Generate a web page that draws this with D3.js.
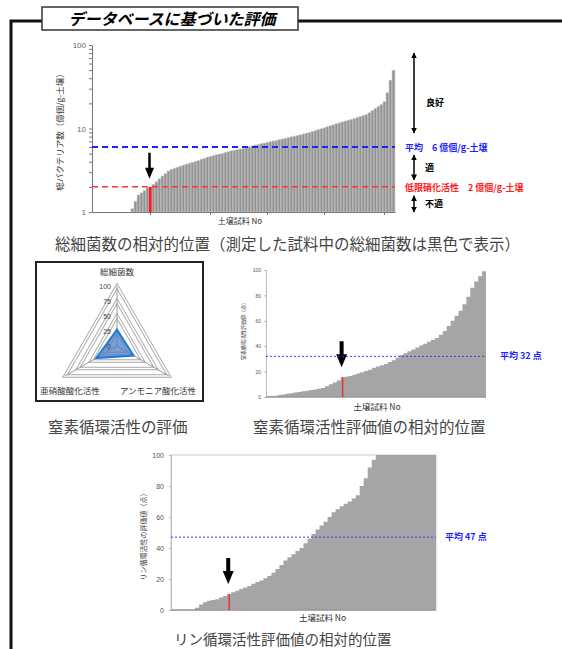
<!DOCTYPE html>
<html>
<head>
    <title></title>
    <meta charset="utf-8">
    <style>
        body { margin: 0; background: #fff; }
        svg { display: block; font-family: "Noto Sans CJK JP", "Noto Sans", sans-serif; }
    </style>
</head>
<body>
<script src="https://cdn.jsdelivr.net/npm/d3@7"></script>
<script>
    // total bacteria per sample (100 million cells / g soil), sorted
    var bacteria = [1, 1, 1, 1, 1, 1, 1, 1, 1, 1, 1, 1, 1,
        1.1, 1.35, 1.6, 1.7, 1.8, 1.95, 2.0, 2.15, 2.3, 2.5, 2.7, 2.9,
        3.1, 3.25, 3.35, 3.45, 3.55, 3.65, 3.75, 3.85, 3.95, 4.05, 4.15,
        4.3, 4.4, 4.55, 4.65, 4.75, 4.85, 4.95, 5.05, 5.2, 5.3, 5.4, 5.5,
        5.6, 5.7, 5.8, 5.9, 6.05, 6.2, 6.35, 6.45, 6.6, 6.7, 6.85, 6.95,
        7.1, 7.2, 7.35, 7.5, 7.65, 7.8, 7.95, 8.1, 8.25, 8.4, 8.6, 8.8,
        9.0, 9.2, 9.45, 9.7, 9.95, 10.2, 10.5, 10.8, 11.1, 11.4, 11.7,
        12.0, 12.3, 12.6, 12.9, 13.2, 13.6, 14.0, 14.4, 14.8, 15.5, 16.5,
        17.5, 18.5, 19.5, 21, 27, 38, 50];
    var bacteriaRed = 19;
    var bacteriaMean = 6;
    var bacteriaMin = 2;
    var bacteriaLabels = [1, 10, 100];
    var bacteriaTicks = [1, 2, 3, 4, 5, 6, 7, 8, 9, 10, 20, 30, 40, 50, 60, 70, 80, 90, 100];
    var sampleTicks = [19, 39, 58, 77, 97];

    // radar: nitrogen cycle
    var radarAxes = ['総細菌数', 'アンモニア酸化活性', '亜硝酸酸化活性'];
    var radarValues = [27, 32, 40];
    var radarLevels = [0, 25, 50, 75, 100];

    // nitrogen cycle score per sample, sorted
    var nitrogen = [0.5, 0.8, 1, 1.5, 2, 2.5, 3, 3.5, 4, 4.5, 5, 5.5, 6, 6.5,
        7, 8.5, 10, 11.5, 13, 15.5, 16, 16.5, 17.5, 18.5, 19.5, 20.5, 21.5,
        23, 24, 25, 26, 27.5, 29, 31, 33, 34.5, 36, 37.5, 39, 40.5, 42, 43.5,
        45, 46.5, 49, 52, 56, 60, 64, 68, 73, 79, 86, 91, 95, 99];
    var nitrogenRed = 19;
    var nitrogenMean = 32;

    // phosphorus cycle score per sample, sorted
    var phosphorus = [0, 0, 0, 0, 0, 0, 1.5, 3.5, 5, 6, 6.5, 7, 8, 9, 10.3,
        11.5, 12.5, 13.5, 14.5, 15.5, 17, 18, 19, 20.5, 22, 24, 26.5, 29, 32,
        34, 36, 38, 40, 43, 46, 49, 52, 54.5, 57, 60, 63, 65, 67, 68.5, 70,
        72, 74, 80, 85, 92, 97, 100, 100, 100, 100, 100, 100, 100, 100, 100,
        100, 100, 100, 100, 100, 100];
    var phosphorusRed = 14;
    var phosphorusMean = 47;
    var scoreTicks = [0, 20, 40, 60, 80, 100];

    var svg = d3.select('body').append('svg')
        .attr('width', 562)
        .attr('height', 649);

    var defs = svg.append('defs');
    defs.append('marker')
        .attr('id', 'head')
        .attr('viewBox', '0 0 10 10')
        .attr('refX', 9).attr('refY', 5)
        .attr('markerWidth', 4).attr('markerHeight', 4)
        .attr('orient', 'auto-start-reverse')
        .append('path').attr('d', 'M0,0L10,5L0,10z').attr('fill', '#000');

    // outer frame and title
    svg.append('path')
        .attr('d', 'M11,649V21H562')
        .attr('fill', 'none').attr('stroke', '#111').attr('stroke-width', 3);
    svg.append('rect')
        .attr('x', 42).attr('y', 7).attr('width', 256).attr('height', 23)
        .attr('fill', '#fff').attr('stroke', '#333').attr('stroke-width', 1.5);
    svg.append('text')
        .attr('x', 172).attr('y', 25)
        .attr('text-anchor', 'middle')
        .style('font-size', '16px').style('font-weight', 'bold').style('font-style', 'italic')
        .text('データベースに基づいた評価');

    function bigArrow(g, x, yTop, yTip, shaft, head, headH) {
        g.append('path')
            .attr('d', 'M' + (x - shaft / 2) + ',' + yTop + 'H' + (x + shaft / 2) +
                'V' + (yTip - headH) + 'H' + (x + head / 2) + 'L' + x + ',' + yTip +
                'L' + (x - head / 2) + ',' + (yTip - headH) + 'H' + (x - shaft / 2) + 'Z')
            .attr('fill', '#000');
    }

    function dblArrow(g, x, ya, yb) {
        g.append('line')
            .attr('x1', x).attr('x2', x).attr('y1', ya).attr('y2', yb)
            .attr('stroke', '#000').attr('stroke-width', 1.5)
            .attr('marker-start', 'url(#head)').attr('marker-end', 'url(#head)');
    }

    // ---- chart 1: total bacteria (log) ----
    var g1 = svg.append('g');
    var x1 = d3.scaleBand().domain(d3.range(bacteria.length)).range([92, 395]);
    var y1 = d3.scaleLog().domain([1, 100]).range([212, 45]);

    g1.selectAll('rect.bar').data(bacteria).enter().append('rect')
        .attr('class', 'bar')
        .attr('x', function (d, i) { return x1(i); })
        .attr('y', function (d) { return y1(d); })
        .attr('width', x1.bandwidth())
        .attr('height', function (d) { return y1(1) - y1(d); })
        .style('fill', function (d, i) { return i === bacteriaRed ? '#ff1a1a' : '#939393'; })
        .style('stroke', function (d, i) { return i === bacteriaRed ? 'none' : '#d4d4d4'; })
        .style('stroke-width', 0.6);

    var ax1 = g1.append('g').attr('transform', 'translate(92,0)')
        .call(d3.axisLeft(y1).tickValues(bacteriaTicks).tickSize(3).tickSizeOuter(0)
            .tickFormat(function (d) { return bacteriaLabels.indexOf(d) >= 0 ? d : ''; }));
    var bx1 = g1.append('g').attr('transform', 'translate(0,212)')
        .call(d3.axisBottom(x1).tickValues(sampleTicks).tickSize(3).tickSizeOuter(0).tickFormat(''));
    [ax1, bx1].forEach(function (a) {
        a.select('.domain').attr('stroke', '#777');
        a.selectAll('.tick line').attr('stroke', '#777');
        a.selectAll('.tick text').attr('fill', '#666').style('font-size', '8px')
            .style('font-family', '"Liberation Sans", sans-serif');
    });

    g1.append('line')
        .attr('x1', 92).attr('x2', 395).attr('y1', y1(bacteriaMean)).attr('y2', y1(bacteriaMean))
        .attr('stroke', '#1f1fff').attr('stroke-width', 2).attr('stroke-dasharray', '6,4');
    g1.append('line')
        .attr('x1', 92).attr('x2', 395).attr('y1', y1(bacteriaMin)).attr('y2', y1(bacteriaMin))
        .attr('stroke', '#ff3535').attr('stroke-width', 1.5).attr('stroke-dasharray', '6,4');

    var rx = x1(bacteriaRed) + x1.bandwidth() / 2;
    bigArrow(g1, rx - 1, y1(bacteria[bacteriaRed]) - 34, y1(bacteria[bacteriaRed]) - 8, 2.5, 9, 11);

    g1.append('text')
        .attr('transform', 'translate(63,130) rotate(-90)')
        .attr('text-anchor', 'middle').attr('fill', '#333')
        .style('font-size', '8.5px')
        .text('総バクテリア数（億個/g-土壌）');
    g1.append('text')
        .attr('x', 240).attr('y', 224).attr('text-anchor', 'middle').attr('fill', '#333')
        .style('font-size', '8px').text('土壌試料 No');

    dblArrow(g1, 414, y1(80), y1(bacteriaMean) - 14);
    dblArrow(g1, 414, y1(bacteriaMean) + 8, y1(bacteriaMin) - 7);
    dblArrow(g1, 414, y1(bacteriaMin) + 9, y1(1));
    var notes = [
        { t: '良好', y: 106, c: '#000', x: 426 },
        { t: '平均　6 億個/g-土壌', y: y1(bacteriaMean) + 4, c: '#1f1fff', x: 405 },
        { t: '適', y: 171, c: '#000', x: 425 },
        { t: '低限硝化活性　2 億個/g-土壌', y: y1(bacteriaMin) + 4, c: '#ff2020', x: 405 },
        { t: '不適', y: 207, c: '#000', x: 425 }
    ];
    g1.selectAll('text.note').data(notes).enter().append('text')
        .attr('class', 'note')
        .attr('x', function (d) { return d.x; })
        .attr('y', function (d) { return d.y; })
        .attr('fill', function (d) { return d.c; })
        .style('font-size', '9px').style('font-weight', 'bold')
        .text(function (d) { return d.t; });

    svg.append('text')
        .attr('x', 55).attr('y', 250).attr('fill', '#444')
        .style('font-size', '15.5px')
        .text('総細菌数の相対的位置（測定した試料中の総細菌数は黒色で表示）');

    // ---- chart 2: radar ----
    var g2 = svg.append('g');
    g2.append('rect')
        .attr('x', 36).attr('y', 262).attr('width', 167).attr('height', 139)
        .attr('fill', '#fff').attr('stroke', '#222').attr('stroke-width', 2);
    var cx = 117, cy = 346;
    var r = d3.scaleLinear().domain([0, 100]).range([0, 60]);
    function pt(k, v) {
        var a = (-90 + 120 * k) * Math.PI / 180;
        return [cx + r(v) * Math.cos(a), cy + r(v) * Math.sin(a)];
    }
    var line = d3.line();
    radarLevels.slice(1).forEach(function (lv) {
        var p = radarAxes.map(function (d, k) { return pt(k, lv); });
        g2.append('path').attr('d', line(p) + 'Z')
            .attr('fill', 'none').attr('stroke', '#a8a8a8').attr('stroke-width', 3.5);
        g2.append('path').attr('d', line(p) + 'Z')
            .attr('fill', 'none').attr('stroke', '#fff').attr('stroke-width', 1.6);
    });
    radarAxes.forEach(function (d, k) {
        var p = pt(k, 100);
        g2.append('line').attr('x1', cx).attr('y1', cy).attr('x2', p[0]).attr('y2', p[1])
            .attr('stroke', '#999').attr('stroke-width', 1);
    });
    var vp = radarValues.map(function (v, k) { return pt(k, v); });
    g2.append('path').attr('d', line(vp) + 'Z')
        .attr('fill', '#4f7fc4').attr('fill-opacity', 0.75)
        .attr('stroke', '#1e7ad6').attr('stroke-width', 2);
    g2.selectAll('text.lv').data(radarLevels).enter().append('text')
        .attr('class', 'lv')
        .attr('x', cx - 6)
        .attr('y', function (d) { return cy - r(d) + 3; })
        .attr('text-anchor', 'end').attr('fill', '#444')
        .style('font-size', '7px').style('font-family', '"Liberation Sans", sans-serif')
        .text(function (d) { return d; });
    var labelPos = [[cx, 275, 'middle'], [158, 394, 'middle'], [70, 394, 'middle']];
    g2.selectAll('text.ax').data(radarAxes).enter().append('text')
        .attr('class', 'ax')
        .attr('x', function (d, k) { return labelPos[k][0]; })
        .attr('y', function (d, k) { return labelPos[k][1]; })
        .attr('text-anchor', function (d, k) { return labelPos[k][2]; })
        .attr('fill', '#333').style('font-size', '8.5px')
        .text(function (d) { return d; });
    svg.append('text')
        .attr('x', 48).attr('y', 433).attr('fill', '#444')
        .style('font-size', '15.5px').text('窒素循環活性の評価');

    // ---- charts 3 and 4: score distributions ----
    function scoreChart(o) {
        var g = svg.append('g');
        var x = d3.scaleLinear().domain([0, o.data.length]).range([o.left, o.right]);
        var y = d3.scaleLinear().domain([0, 100]).range([o.bottom, o.top]);
        var area = d3.area().curve(d3.curveStepAfter)
            .x(function (d, i) { return x(i); })
            .y0(y(0))
            .y1(function (d) { return y(d); });
        if (o.frame) {
            g.append('rect').attr('x', o.left).attr('y', o.top)
                .attr('width', o.right - o.left).attr('height', o.bottom - o.top)
                .attr('fill', 'none').attr('stroke', '#ddd').attr('stroke-width', 1.5);
        }
        g.append('path')
            .datum(o.data.concat([o.data[o.data.length - 1]]))
            .attr('d', area).attr('fill', '#a5a5a5');
        var ax = g.append('g').attr('transform', 'translate(' + o.left + ',0)')
            .call(d3.axisLeft(y).tickValues(scoreTicks).tickSize(2).tickPadding(o.pad));
        ax.select('.domain').attr('stroke', '#bbb');
        ax.selectAll('.tick line').attr('stroke', '#bbb');
        ax.selectAll('.tick text').attr('fill', '#555').style('font-size', o.tickFont + 'px')
            .style('font-family', '"Liberation Sans", sans-serif');
        g.append('line').attr('x1', o.left).attr('x2', o.right)
            .attr('y1', o.bottom).attr('y2', o.bottom)
            .attr('stroke', '#999').attr('stroke-width', 1.5);

        var redX = x(o.red + 0.5);
        g.append('line').attr('x1', redX).attr('x2', redX)
            .attr('y1', y(0)).attr('y2', y(o.data[o.red]))
            .attr('stroke', '#e8322f').attr('stroke-width', 1.5);
        bigArrow(g, redX - 1, y(o.data[o.red]) - 36, y(o.data[o.red]) - 10, 4, 11, 13);

        g.append('line').attr('x1', o.left).attr('x2', o.right)
            .attr('y1', y(o.mean)).attr('y2', y(o.mean))
            .attr('stroke', '#3a3aff').attr('stroke-width', 1).attr('stroke-dasharray', '2,2');
        g.append('text').attr('x', o.meanX).attr('y', y(o.mean) + 3)
            .attr('fill', '#1f1fff').style('font-size', '9px').style('font-weight', 'bold')
            .text('平均 ' + o.mean + ' 点');

        g.append('text')
            .attr('transform', 'translate(' + o.yLabelX + ',' + o.yLabelY + ') rotate(-90)')
            .attr('text-anchor', 'middle').attr('fill', '#444')
            .style('font-size', o.yLabelFont + 'px').text(o.yLabel);
        g.append('text')
            .attr('x', (o.left + o.right) / 2 + o.xLabelShift).attr('y', o.bottom + o.xLabelDy)
            .attr('text-anchor', 'middle').attr('fill', '#333')
            .style('font-size', '8.5px').text('土壌試料 No');
        g.append('text')
            .attr('x', o.capX).attr('y', o.capY).attr('fill', '#444')
            .style('font-size', o.capFont + 'px').text(o.caption);
    }

    scoreChart({
        data: nitrogen, red: nitrogenRed, mean: nitrogenMean,
        left: 266, right: 486, top: 270, bottom: 397,
        tickFont: 5, pad: 3, frame: false, meanX: 500,
        yLabel: '窒素循環活性評価値（点）', yLabelX: 245, yLabelY: 330, yLabelFont: 5,
        xLabelShift: 1, xLabelDy: 13,
        caption: '窒素循環活性評価値の相対的位置', capX: 253, capY: 433, capFont: 15.5
    });

    scoreChart({
        data: phosphorus, red: phosphorusRed, mean: phosphorusMean,
        left: 171, right: 436, top: 455, bottom: 610,
        tickFont: 7, pad: 5, frame: true, meanX: 445,
        yLabel: 'リン循環活性の評価値（点）', yLabelX: 146, yLabelY: 535, yLabelFont: 7,
        xLabelShift: 19, xLabelDy: 11,
        caption: 'リン循環活性評価値の相対的位置', capX: 174, capY: 645, capFont: 14.5
    });
</script>
</body>
</html>
